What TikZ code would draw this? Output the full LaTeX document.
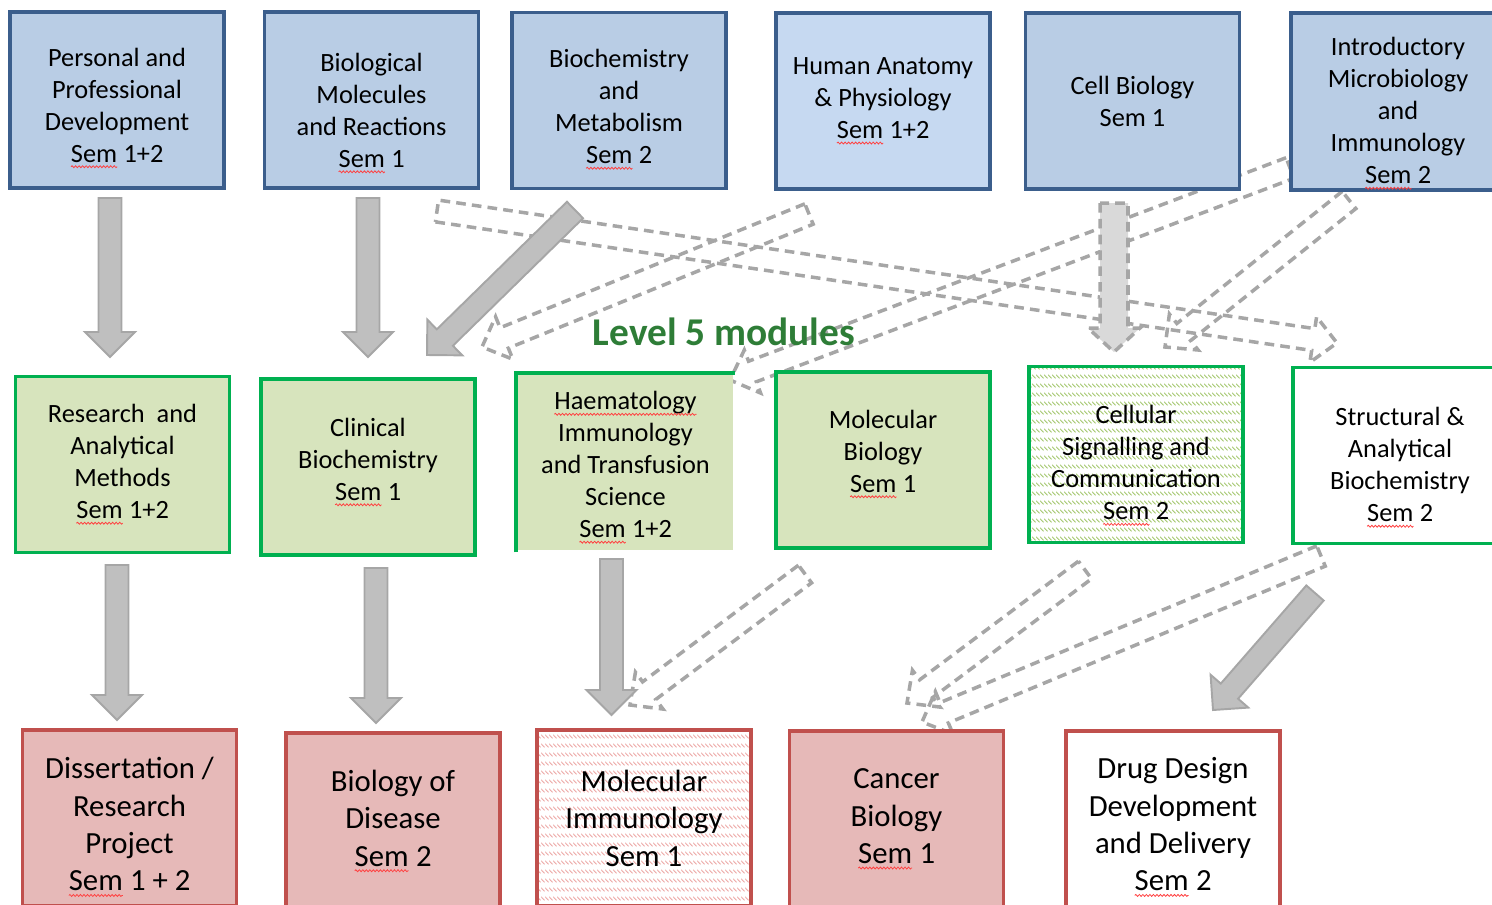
\documentclass[tikz,border=0pt]{standalone}
\usepackage{fontspec}
\setmainfont{Carlito}
\usetikzlibrary{calc, patterns, backgrounds, decorations.pathmorphing}
\definecolor{bluefill}{HTML}{B9CDE5}
\definecolor{bluefilltwo}{HTML}{C6D9F1}
\definecolor{blueline}{HTML}{3B5E8C}
\definecolor{greenfill}{HTML}{D7E4BD}
\definecolor{greenline}{HTML}{00B050}
\definecolor{greenhatch}{HTML}{A4C86E}
\definecolor{redfill}{HTML}{E6B9B8}
\definecolor{redline}{HTML}{C0504D}
\definecolor{redhatch}{HTML}{EDA8A6}
\definecolor{arrowfill}{HTML}{BFBFBF}
\definecolor{arrowlight}{HTML}{D9D9D9}
\definecolor{arrowline}{HTML}{A6A6A6}
\definecolor{titlegreen}{HTML}{2E7D37}
% red spell-check wave under a word
\newcommand\sq[1]{\tikz[baseline=(w.base)]{\node[inner sep=0pt, outer sep=0pt, minimum width=0pt, minimum height=0pt, draw=none, fill=none] (w) {#1}; \draw[red!75, line width=0.45pt, decorate, decoration={snake, amplitude=0.55pt, segment length=2pt}] ([yshift=-2.6pt]w.base west) -- ([yshift=-2.6pt]w.base east);}}
% push a block of lines down / up inside its box
\newcommand\tdn[1]{\rule{0pt}{\dimexpr0.7em+#1+#1\relax}}
\newcommand\tup[1]{\rule[-\dimexpr3.4pt+#1+#1\relax]{0pt}{0pt}}
% rows of short diagonal strokes
\pgfdeclarepatternformonly{rowhatch}{\pgfqpoint{0pt}{0pt}}{\pgfqpoint{2.2pt}{5pt}}{\pgfqpoint{2.2pt}{5pt}}{%
  \pgfsetlinewidth{0.5pt}%
  \pgfpathmoveto{\pgfqpoint{0.1pt}{4.2pt}}%
  \pgfpathlineto{\pgfqpoint{2.1pt}{2.1pt}}%
  \pgfusepath{stroke}}
% block arrow sizes
\newcommand\shw{0.23cm}
\newcommand\hdw{0.5cm}
\newcommand\hdl{0.5cm}
\tikzstyle{mod}=[draw, line width=2.2pt, minimum width=4.28cm, minimum height=3.52cm, align=center, inner sep=0pt, font=\fontsize{15}{18.2}\selectfont]
\tikzstyle{lvfour}=[mod, draw=blueline, fill=bluefill]
\tikzstyle{lvfive}=[mod, draw=greenline, fill=greenfill]
\tikzstyle{lvsix}=[mod, draw=redline, fill=redfill, font=\fontsize{17.5}{21.3}\selectfont]
\tikzstyle{block}=[to path={($(\tikztostart)!\shw!-90:(\tikztotarget)$) -- ($(\tikztotarget)!\hdl!(\tikztostart)!\shw!90:(\tikztostart)$) -- ($(\tikztotarget)!\hdl!(\tikztostart)!\hdw!90:(\tikztostart)$) -- (\tikztotarget) -- ($(\tikztotarget)!\hdl!(\tikztostart)!\hdw!-90:(\tikztostart)$) -- ($(\tikztotarget)!\hdl!(\tikztostart)!\shw!-90:(\tikztostart)$) -- ($(\tikztostart)!\shw!90:(\tikztotarget)$) -- cycle}]
\tikzstyle{solidarr}=[block, fill=arrowfill, draw=arrowline, line width=1.1pt]
\tikzstyle{dasharr}=[block, draw=arrowline, line width=2pt, dash pattern=on 5.5pt off 3.5pt, /utils/exec={\def\shw{0.22cm}\def\hdw{0.46cm}\def\hdl{0.48cm}}]
\tikzstyle{lightarr}=[dasharr, fill=arrowlight, /utils/exec={\def\shw{0.28cm}\def\hdw{0.52cm}}]

\begin{document}
\begin{tikzpicture}[x=0.02cm, y=-0.02cm]
\useasboundingbox (0,0) rectangle (1492,904);
% level 4 modules
\node[lvfour] (pd) at (117,100) {\tdn{4.5pt}Personal and\\Professional\\Development\\\sq{Sem} 1+2};
\node[lvfour] (bm) at (371.5,100) {\tdn{7.4pt}Biological\\Molecules\\and Reactions\\\sq{Sem} 1};
\node[lvfour] (bme) at (619,100.5) {\tdn{5.1pt}Biochemistry\\and\\Metabolism\\\sq{Sem} 2};
\node[lvfour, fill=bluefilltwo] (hap) at (883,101) {Human Anatomy\\\& Physiology\\\sq{Sem} 1+2};
\node[lvfour] (cb) at (1132.5,101) {Cell Biology\\Sem 1};
\node[lvfour] (imi) at (1398,101.5) {\tdn{6.8pt}Introductory\\Microbiology\\and\\Immunology\\\sq{Sem} 2};
% level 5 modules
\node[lvfive] (ram) at (122.5,464.5) {Research\ \ and\\Analytical\\Methods\\\sq{Sem} 1+2};
\node[lvfive] (clb) at (368,467) {Clinical\\Biochemistry\\\sq{Sem} 1\tup{2.8pt}};
\node[lvfive, draw=none, minimum width=4.3cm] (hts) at (625.5,462.5) {\tdn{2.8pt}\sq{Haematology}\\Immunology\\and Transfusion\\Science\\\sq{Sem} 1+2};
\draw[greenline, line width=2.2pt] (hts.south west) -- (hts.north west) -- (hts.north east);
\node[lvfive] (mob) at (883,460) {Molecular\\Biology\\\sq{Sem} 1\tup{3.4pt}};
\node[mod, draw=greenline, preaction={fill=white}, pattern=rowhatch, pattern color=greenhatch] (csc) at (1136,454.5) {\tdn{6.3pt}Cellular\\Signalling and\\Communication\\\sq{Sem} 2};
\node[mod, draw=greenline, fill=white] (sab) at (1400,455.5) {\tdn{6.8pt}Structural \&\\Analytical\\Biochemistry\\\sq{Sem} 2};
% level 6 modules
\node[lvsix] (drp) at (129.5,818) {\tdn{5.1pt}Dissertation /\\Research\\Project\\\sq{Sem} 1 + 2};
\node[lvsix] (bod) at (393,821) {Biology of\\Disease\\\sq{Sem} 2};
\node[lvsix, preaction={fill=white}, pattern=rowhatch, pattern color=redhatch] (mim) at (644,818) {Molecular\\Immunology\\Sem 1};
\node[lvsix] (cab) at (896.5,819) {Cancer\\Biology\\\sq{Sem} 1};
\node[lvsix, fill=white] (ddd) at (1173,819) {\tdn{4.5pt}Drug Design\\Development\\and Delivery\\\sq{Sem} 2};
% arrow ends
\coordinate (pd-out) at (110,198);
\coordinate (bm-out1) at (368,198);
\coordinate (bm-out2) at (437,211);
\coordinate (bme-out) at (575,210);
\coordinate (hap-out) at (809,214);
\coordinate (cb-out) at (1114,203);
\coordinate (imi-out1) at (1290,168);
\coordinate (imi-out2) at (1349,200);
\coordinate (ram-in) at (110,357);
\coordinate (clb-in1) at (368,357);
\coordinate (clb-in2) at (427,355);
\coordinate (clb-in3) at (482,347);
\coordinate (hts-in) at (730,380);
\coordinate (csc-in1) at (1114,352);
\coordinate (csc-in2) at (1165,347);
\coordinate (sab-in) at (1337,343);
\coordinate (ram-out) at (117,565);
\coordinate (clb-out) at (376,568);
\coordinate (hts-out) at (611.5,559);
\coordinate (mob-out) at (805,574);
\coordinate (csc-out) at (1085,570);
\coordinate (sab-out1) at (1321,556);
\coordinate (sab-out2) at (1315,593);
\coordinate (drp-in) at (117,720);
\coordinate (bod-in) at (376,723);
\coordinate (mim-in1) at (611.5,715);
\coordinate (mim-in2) at (630,705);
\coordinate (cab-in1) at (907,703);
\coordinate (cab-in2) at (922,722);
\coordinate (ddd-in) at (1213,710);
% the dashed links
\begin{scope}[on background layer]
\draw[dasharr] (bm-out2) to (sab-in);
\draw[dasharr] (hap-out) to (clb-in3);
\draw[dasharr] (imi-out1) to (hts-in);
\draw[dasharr] (imi-out2) to (csc-in2);
\draw[dasharr] (mob-out) to (mim-in2);
\draw[dasharr] (csc-out) to (cab-in1);
\draw[dasharr] (sab-out1) to (cab-in2);
\end{scope}
% the solid links
\draw[solidarr] (pd-out) to (ram-in);
\draw[solidarr] (bm-out1) to (clb-in1);
\draw[solidarr] (bme-out) to (clb-in2);
\draw[lightarr] (cb-out) to (csc-in1);
\draw[solidarr] (ram-out) to (drp-in);
\draw[solidarr] (clb-out) to (bod-in);
\draw[solidarr] (hts-out) to (mim-in1);
\draw[solidarr] (sab-out2) to (ddd-in);
\node[font=\fontsize{22.4}{27}\selectfont\bfseries, text=titlegreen] (lvl) at (724,332) {Level 5 modules};
\end{tikzpicture}
\end{document}
